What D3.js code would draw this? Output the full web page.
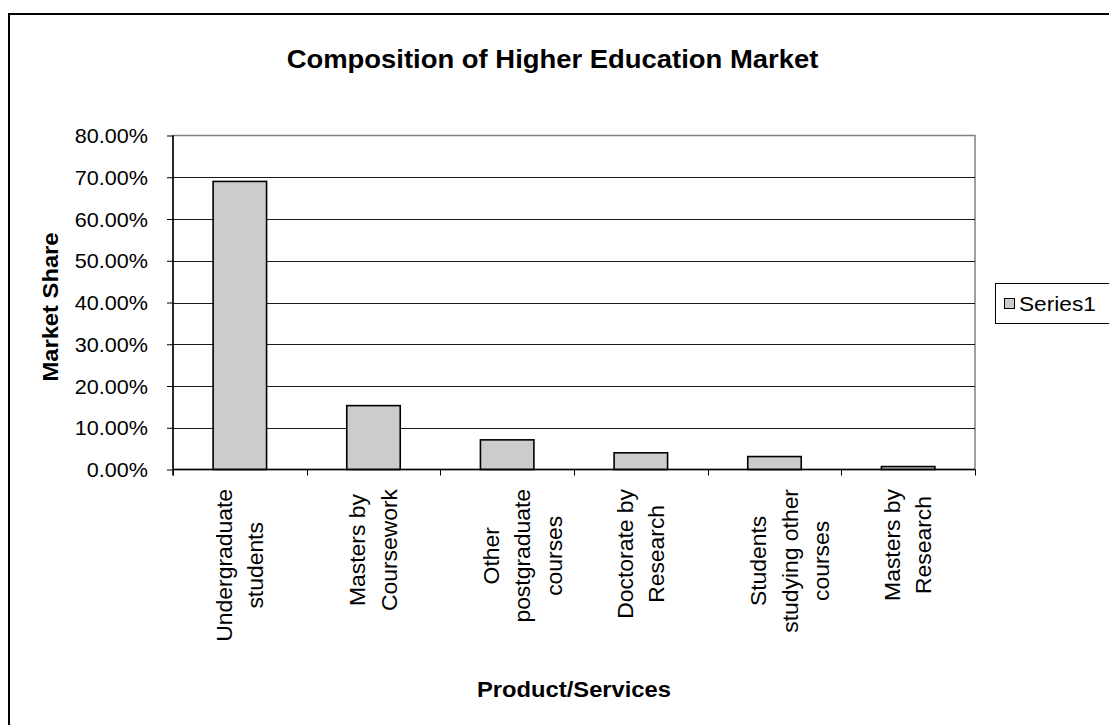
<!DOCTYPE html>
<html>
<head>
<meta charset="utf-8">
<script src="https://cdn.jsdelivr.net/npm/d3@7"></script>
<style>
  html, body { margin: 0; padding: 0; background: #fff; }
  svg { display: block; }
  text { font-family: Arial, "Liberation Sans", sans-serif; fill: #000; }
</style>
</head>
<body>
<svg id="chart" width="1109" height="725"></svg>
<script>
// Market composition data
const categories = [
  ["Undergraduate", "students"],
  ["Masters by", "Coursework"],
  ["Other", "postgraduate", "courses"],
  ["Doctorate by", "Research"],
  ["Students", "studying other", "courses"],
  ["Masters by", "Research"]
];
const shares = [0.690, 0.153, 0.071, 0.040, 0.031, 0.007];
const yTicks = [0, 0.1, 0.2, 0.3, 0.4, 0.5, 0.6, 0.7, 0.8];
const seriesName = "Series1";
const titleText = "Composition of Higher Education Market";
const xTitle = "Product/Services";
const yTitle = "Market Share";

const W = 1109, H = 725;
const plot = { left: 173, right: 975, top: 135.5, bottom: 469.5 };
const stretch = 1.08; // slightly wide glyph rendering
const tickSize = 20;
const catSize = 21.2;
const axisTitleSize = 22;

const svg = d3.select("#chart");

// outer chart frame
svg.append("rect")
  .attr("x", 9).attr("y", 14)
  .attr("width", W + 20).attr("height", H + 20)
  .attr("fill", "#fff").attr("stroke", "#000").attr("stroke-width", 2);

const x = d3.scaleBand()
  .domain(d3.range(categories.length))
  .range([plot.left, plot.right])
  .paddingInner(0.6).paddingOuter(0.3);
const xCat = d3.scaleBand()
  .domain(d3.range(categories.length))
  .range([plot.left, plot.right]);
const y = d3.scaleLinear().domain([0, 0.8]).range([plot.bottom, plot.top]);

// plot area border
svg.append("rect")
  .attr("x", plot.left).attr("y", plot.top)
  .attr("width", plot.right - plot.left).attr("height", plot.bottom - plot.top)
  .attr("fill", "#fff").attr("stroke", "#808080").attr("stroke-width", 1.5);

// horizontal gridlines
svg.append("g")
  .selectAll("line")
  .data(yTicks.filter(d => d > 0 && d < 0.8))
  .join("line")
  .attr("x1", plot.left).attr("x2", plot.right)
  .attr("y1", d => Math.round(y(d)) + 0.5).attr("y2", d => Math.round(y(d)) + 0.5)
  .attr("stroke", "#1a1a1a").attr("stroke-width", 1);

// bars
svg.append("g")
  .selectAll("rect")
  .data(shares)
  .join("rect")
  .attr("x", (d, i) => x(i))
  .attr("y", d => y(d))
  .attr("width", x.bandwidth())
  .attr("height", d => plot.bottom - y(d))
  .attr("fill", "#cccccc").attr("stroke", "#000").attr("stroke-width", 1.6);

// y axis
const yAxis = d3.axisLeft(y).tickValues(yTicks).tickSize(6)
  .tickFormat(d => (d * 100).toFixed(2) + "%");
const gy = svg.append("g").attr("transform", `translate(${plot.left},0)`).call(yAxis);
gy.select(".domain").attr("stroke", "#000").attr("stroke-width", 1.5)
  .attr("d", `M0,${plot.top}V${plot.bottom + 6}`);
gy.selectAll(".tick line").attr("stroke", "#000");
gy.selectAll(".tick text").each(function(d) {
  const t = d3.select(this);
  t.attr("x", null).attr("dy", null)
   .attr("font-size", tickSize)
   .attr("text-anchor", "end")
   .attr("transform", `translate(-25,${0.36 * tickSize}) scale(${stretch},1)`);
});

// x axis with ticks at category boundaries
const gx = svg.append("g").attr("transform", `translate(0,${plot.bottom})`);
gx.append("line")
  .attr("x1", plot.left).attr("x2", plot.right)
  .attr("stroke", "#000").attr("stroke-width", 1.5);
gx.selectAll("line.tick")
  .data(d3.range(categories.length + 1))
  .join("line").attr("class", "tick")
  .attr("x1", i => Math.round(plot.left + i * xCat.step()) + 0.5)
  .attr("x2", i => Math.round(plot.left + i * xCat.step()) + 0.5)
  .attr("y1", 0).attr("y2", 6)
  .attr("stroke", "#000");

// rotated, multi-line category labels
const pitch = 31.5;
const labelTop = 489;
const catG = svg.append("g");
categories.forEach((lines, i) => {
  const cx = xCat(i) + xCat.bandwidth() / 2;
  const g = catG.append("g");
  const texts = lines.map((ln, j) => g.append("text")
    .attr("font-size", catSize)
    .attr("text-anchor", "middle")
    .text(ln));
  const maxLen = d3.max(texts, t => t.node().getComputedTextLength()) * stretch;
  const cy = labelTop + maxLen / 2;
  texts.forEach((t, j) => {
    const lx = cx - pitch / 2 + j * pitch + 0.35 * catSize;
    t.attr("transform", `translate(${lx},${cy}) rotate(-90) scale(${stretch},1)`);
  });
});

// titles
svg.append("text")
  .attr("font-size", 25.4).attr("font-weight", "bold")
  .attr("text-anchor", "middle")
  .attr("transform", `translate(552.5,68) scale(${stretch},1)`)
  .text(titleText);

svg.append("text")
  .attr("font-size", axisTitleSize).attr("font-weight", "bold")
  .attr("text-anchor", "middle")
  .attr("transform", `translate(${(plot.left + plot.right) / 2},697) scale(${stretch},1)`)
  .text(xTitle);

svg.append("text")
  .attr("font-size", axisTitleSize).attr("font-weight", "bold")
  .attr("text-anchor", "middle")
  .attr("transform", `translate(${50 + 0.35 * axisTitleSize},307) rotate(-90) scale(${stretch},1)`)
  .text(yTitle);

// legend
const lg = svg.append("g").attr("transform", "translate(995,283)");
lg.append("rect").attr("x", 0.5).attr("y", 0.5).attr("width", 130).attr("height", 40)
  .attr("fill", "#fff").attr("stroke", "#000").attr("stroke-width", 1);
lg.append("rect").attr("x", 9.5).attr("y", 15.5).attr("width", 10).attr("height", 10)
  .attr("fill", "#cccccc").attr("stroke", "#000").attr("stroke-width", 1);
lg.append("text").attr("font-size", 21)
  .attr("transform", `translate(24,${20.5 + 0.36 * 21}) scale(${stretch},1)`)
  .text(seriesName);
</script>
</body>
</html>
